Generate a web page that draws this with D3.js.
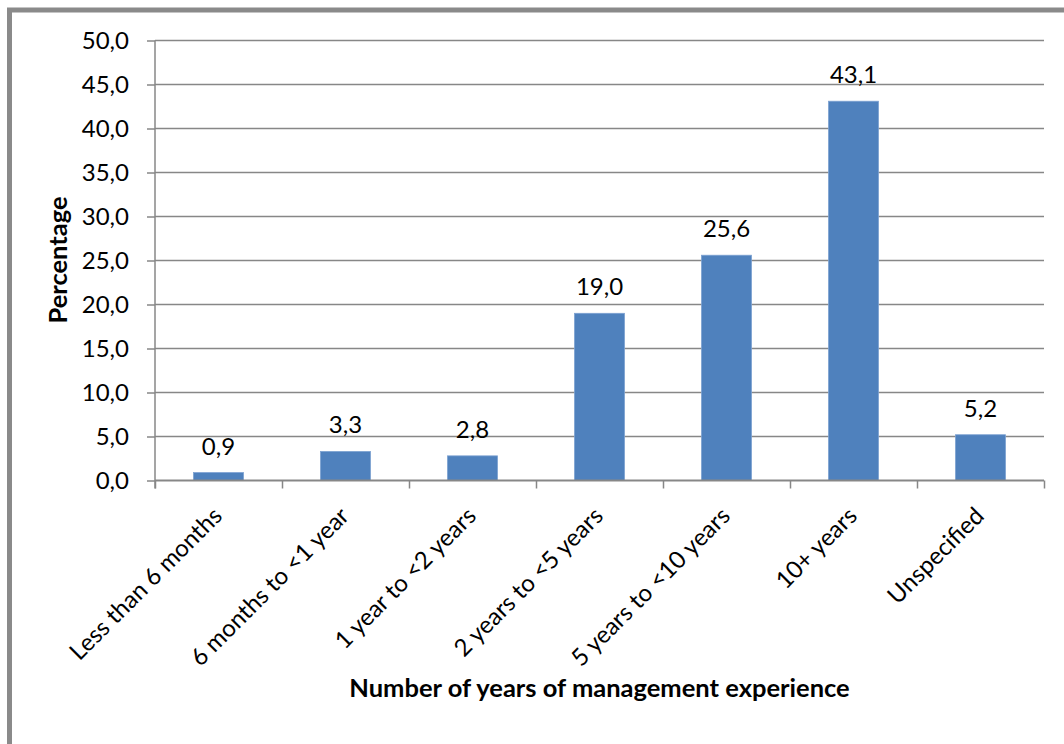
<!DOCTYPE html>
<html>
<head>
<meta charset="utf-8">
<script src="https://cdn.jsdelivr.net/npm/d3@7"></script>
<style>
  html, body { margin: 0; padding: 0; background: #fff; }
  svg { display: block; font-family: Lato, "Open Sans", sans-serif; }
</style>
</head>
<body>
<svg id="chart" width="1064" height="744"></svg>
<script>
const categories = [
    "Less than 6 months",
    "6 months to <1 year",
    "1 year to <2 years",
    "2 years to <5 years",
    "5 years to <10 years",
    "10+ years",
    "Unspecified"
]
const percentages = [0.9, 3.3, 2.8, 19.0, 25.6, 43.1, 5.2]
const yTicks = [0, 5, 10, 15, 20, 25, 30, 35, 40, 45, 50]
const xTitle = "Number of years of management experience"
const yTitle = "Percentage"

const width = 1064
const height = 744
const margin = { top: 40.5, right: 20, bottom: 263.5, left: 155 }
const plotRight = 1044
const plotBottom = height - margin.bottom
const gridColour = "#878787"
const barColour = "#4f81bd"
const fmt = v => v.toFixed(1).replace(".", ",")

const svg = d3.select("#chart")

// outer frame (only top and left edges fall inside the picture)
svg.append("rect")
    .attr("x", 9.5)
    .attr("y", 10)
    .attr("width", 1200)
    .attr("height", 900)
    .attr("fill", "none")
    .attr("stroke", "#8a8a8a")
    .attr("stroke-width", 5)

const x = d3.scaleBand()
    .domain(categories)
    .range([margin.left, plotRight])
    .paddingInner(0.606)
    .paddingOuter(0.303)

// boundaries between categories, for the tick marks
const xEdges = d3.scaleLinear()
    .domain([0, categories.length])
    .range([margin.left, plotRight])

const y = d3.scaleLinear()
    .domain([0, 50])
    .range([plotBottom, margin.top])

// horizontal grid
svg.append("g")
    .selectAll("line")
    .data(yTicks.slice(1))
    .join("line")
    .attr("x1", margin.left)
    .attr("x2", plotRight)
    .attr("y1", d => y(d))
    .attr("y2", d => y(d))
    .attr("stroke", gridColour)
    .attr("stroke-width", 1.5)

// bars
svg.append("g")
    .selectAll("rect")
    .data(percentages)
    .join("rect")
    .attr("x", (d, i) => x(categories[i]))
    .attr("width", x.bandwidth())
    .attr("y", d => y(d))
    .attr("height", d => plotBottom - y(d))
    .attr("fill", barColour)
    .attr("stroke", "#7da2d2")
    .attr("stroke-width", 0.8)

// value labels
svg.append("g")
    .selectAll("text")
    .data(percentages)
    .join("text")
    .attr("x", (d, i) => x(categories[i]) + x.bandwidth() / 2)
    .attr("y", d => y(d) - 18)
    .attr("text-anchor", "middle")
    .attr("font-size", 24)
    .attr("fill", "#000")
    .text(d => fmt(d))

// y axis
const yAxis = svg.append("g")
    .attr("transform", `translate(${margin.left},0)`)
    .call(d3.axisLeft(y)
        .tickValues(yTicks)
        .tickSize(8)
        .tickPadding(18)
        .tickFormat(fmt))
yAxis.select(".domain").attr("stroke", gridColour).attr("stroke-width", 1.5)
    .attr("d", `M0,${margin.top}V${plotBottom + 8}`)
yAxis.selectAll(".tick line").attr("stroke", gridColour).attr("stroke-width", 1.5)
yAxis.selectAll(".tick text")
    .attr("font-family", "Lato, sans-serif")
    .attr("font-size", 24)
    .attr("fill", "#000")

// x axis
const xAxis = svg.append("g")
    .attr("transform", `translate(0,${plotBottom})`)
    .call(d3.axisBottom(xEdges)
        .ticks(categories.length)
        .tickSize(8)
        .tickFormat(""))
xAxis.select(".domain").attr("stroke", gridColour).attr("stroke-width", 1.8)
    .attr("d", `M${margin.left},0H${plotRight}`)
xAxis.selectAll(".tick line").attr("stroke", gridColour).attr("stroke-width", 1.5)

// category labels, rotated
svg.append("g")
    .selectAll("text")
    .data(categories)
    .join("text")
    .attr("transform", d => `translate(${x(d) + x.bandwidth() / 2 + 5},${plotBottom + 37}) rotate(-45)`)
    .attr("text-anchor", "end")
    .attr("font-size", 24)
    .attr("fill", "#000")
    .text(d => d)

// axis titles
svg.append("text")
    .attr("x", (margin.left + plotRight) / 2)
    .attr("y", 697)
    .attr("text-anchor", "middle")
    .attr("font-size", 25.5)
    .attr("font-weight", "bold")
    .attr("fill", "#000")
    .text(xTitle)

svg.append("text")
    .attr("transform", `translate(67,260) rotate(-90)`)
    .attr("text-anchor", "middle")
    .attr("font-size", 25.5)
    .attr("font-weight", "bold")
    .attr("fill", "#000")
    .text(yTitle)
</script>
</body>
</html>
